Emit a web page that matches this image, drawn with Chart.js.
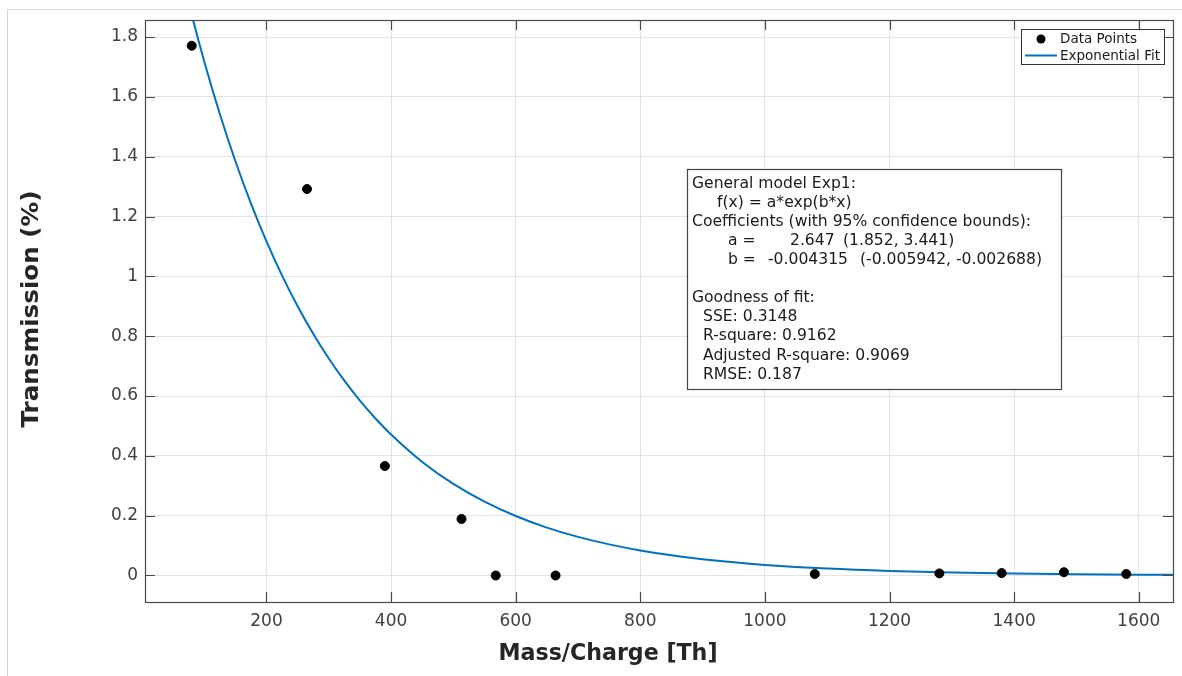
<!DOCTYPE html>
<html>
<head>
<meta charset="utf-8">
<script src="https://cdn.jsdelivr.net/npm/chart.js@4"></script>
<style>
  body { margin: 0; background: #fff; overflow: hidden; }
  #frame {
    position: absolute; left: 7px; top: 9px; width: 1300px; height: 800px;
    border-left: 1px solid #d4d4d4; border-top: 1px solid #d4d4d4;
  }
  #wrap { position: absolute; left: 0; top: 0; width: 1182px; height: 676px; }
</style>
</head>
<body>
<div id="frame"></div>
<div id="wrap"><canvas id="fitChart" width="1182" height="676"></canvas></div>
<script>
// measured points
const massCharge = [80, 265, 390, 513, 568, 664, 1080, 1280, 1380, 1480, 1580];
const transmission = [1.771, 1.292, 0.366, 0.189, 0.0, 0.0, 0.005, 0.007, 0.008, 0.011, 0.005];

// fitted curve
const fitX = [5, 25, 50, 75, 100, 125, 150, 175, 200, 225, 250, 275, 300, 325, 350, 375, 400,
  450, 500, 550, 600, 650, 700, 750, 800, 850, 900, 950, 1000, 1100, 1200, 1300, 1400, 1500, 1600, 1655];
const fitY = [2.5905, 2.3763, 2.1333, 1.9152, 1.7193, 1.5435, 1.3857, 1.244, 1.1168, 1.0026, 0.9001,
  0.808, 0.7254, 0.6512, 0.5846, 0.5248, 0.4712, 0.3797, 0.306, 0.2467, 0.1988, 0.1602, 0.1291,
  0.1041, 0.0839, 0.0676, 0.0545, 0.0439, 0.0354, 0.023, 0.0149, 0.0097, 0.0063, 0.0041, 0.0027, 0.0021];

const xTicks = [200, 400, 600, 800, 1000, 1200, 1400, 1600];
const yTicks = [0, 0.2, 0.4, 0.6, 0.8, 1, 1.2, 1.4, 1.6, 1.8];
const yTickLabels = ["0", "0.2", "0.4", "0.6", "0.8", "1", "1.2", "1.4", "1.6", "1.8"];

const seriesNames = ["Data Points", "Exponential Fit"];
const fitText = [
  ["General model Exp1:", 692],
  ["f(x) = a*exp(b*x)", 717],
  ["Coefficients (with 95% confidence bounds):", 692],
  ["a =", 728, "2.647", 790, "(1.852, 3.441)", 843],
  ["b =", 728, "-0.004315", 768, "(-0.005942, -0.002688)", 860],
  [],
  ["Goodness of fit:", 692],
  ["SSE: 0.3148", 703],
  ["R-square: 0.9162", 703],
  ["Adjusted R-square: 0.9069", 703],
  ["RMSE: 0.187", 703],
];

const FONT = "'DejaVu Sans', sans-serif";
const AXIS = "#4a4a4a";
const BLUE = "#0072BD";

// draw text squeezed/stretched horizontally by sx
function drawText(ctx, text, x, y, sx) {
  ctx.save();
  ctx.translate(x, y);
  ctx.scale(sx, 1);
  ctx.fillText(text, 0, 0);
  ctx.restore();
}

const decorPlugin = {
  id: "decor",
  afterDraw(chart) {
    const ctx = chart.ctx;
    const a = chart.chartArea;
    const xs = chart.scales.x;
    const ys = chart.scales.y;

    ctx.save();
    // box and inner ticks
    ctx.strokeStyle = AXIS;
    ctx.lineWidth = 1.2;
    ctx.beginPath();
    xTicks.forEach((v) => {
      const px = Math.round(xs.getPixelForValue(v)) + 0.5;
      ctx.moveTo(px, a.bottom); ctx.lineTo(px, a.bottom - 10);
      ctx.moveTo(px, a.top); ctx.lineTo(px, a.top + 10);
    });
    yTicks.forEach((v) => {
      const py = Math.round(ys.getPixelForValue(v)) + 0.5;
      ctx.moveTo(a.left, py); ctx.lineTo(a.left + 10, py);
      ctx.moveTo(a.right, py); ctx.lineTo(a.right - 10, py);
    });
    ctx.stroke();
    ctx.strokeRect(a.left + 0.5, a.top + 0.5, a.right - a.left, a.bottom - a.top);

    // axis titles
    ctx.fillStyle = "#262626";
    ctx.textAlign = "center";
    ctx.textBaseline = "middle";
    ctx.font = "bold 23px " + FONT;
    const xt = "Mass/Charge [Th]";
    drawText(ctx, xt, 608, 654, 219 / ctx.measureText(xt).width);
    const yt = "Transmission (%)";
    ctx.translate(32, 309);
    ctx.rotate(-Math.PI / 2);
    drawText(ctx, yt, 0, 0, 237 / ctx.measureText(yt).width);
    ctx.restore();

    // legend
    ctx.save();
    ctx.fillStyle = "#fff";
    ctx.fillRect(1021, 29, 143, 35);
    ctx.strokeStyle = "#333";
    ctx.lineWidth = 1;
    ctx.strokeRect(1021.5, 29.5, 143, 35);
    ctx.fillStyle = "#000";
    ctx.beginPath();
    ctx.arc(1041, 39, 4.5, 0, 2 * Math.PI);
    ctx.fill();
    ctx.strokeStyle = BLUE;
    ctx.lineWidth = 2;
    ctx.beginPath();
    ctx.moveTo(1025, 55.5); ctx.lineTo(1057, 55.5);
    ctx.stroke();
    ctx.fillStyle = "#1a1a1a";
    ctx.font = "14px " + FONT;
    ctx.textBaseline = "middle";
    const lsx = 100 / ctx.measureText(seriesNames[1]).width;
    drawText(ctx, seriesNames[0], 1060, 39, lsx);
    drawText(ctx, seriesNames[1], 1060, 56, lsx);

    // fit results box
    ctx.fillStyle = "#fff";
    ctx.fillRect(687, 169, 374, 220);
    ctx.strokeStyle = "#444";
    ctx.lineWidth = 1.2;
    ctx.strokeRect(687.5, 169.5, 374, 220);
    ctx.fillStyle = "#1a1a1a";
    ctx.font = "16px " + FONT;
    const bsx = 339 / ctx.measureText(fitText[2][0]).width;
    fitText.forEach((row, i) => {
      const y = 183.5 + i * 19.1;
      for (let k = 0; k < row.length; k += 2) {
        drawText(ctx, row[k], row[k + 1], y, bsx);
      }
    });
    ctx.restore();
  },
};

new Chart(document.getElementById("fitChart"), {
  type: "scatter",
  data: {
    datasets: [
      {
        label: seriesNames[1],
        data: fitX.map((x, i) => ({ x: x, y: fitY[i] })),
        showLine: true,
        borderColor: BLUE,
        borderWidth: 2,
        pointRadius: 0,
        cubicInterpolationMode: "monotone",
        order: 2,
      },
      {
        label: seriesNames[0],
        data: massCharge.map((x, i) => ({ x: x, y: transmission[i] })),
        backgroundColor: "#000",
        borderColor: "#000",
        pointRadius: 4.5,
        order: 1,
      },
    ],
  },
  options: {
    responsive: false,
    animation: false,
    layout: { padding: { left: 0, right: 9, top: 20, bottom: 0 } },
    plugins: { legend: { display: false }, tooltip: { enabled: false } },
    scales: {
      x: {
        type: "linear",
        min: 5,
        max: 1655,
        afterFit: (s) => { s.height = 74; },
        afterBuildTicks: (s) => { s.ticks = xTicks.map((v) => ({ value: v })); },
        grid: { color: "#e3e3e3", drawTicks: false },
        border: { display: false },
        ticks: {
          padding: 9,
          color: "#404040",
          font: { family: FONT, size: 17 },
          callback: (v) => String(v),
        },
      },
      y: {
        type: "linear",
        min: -0.0886,
        max: 1.857,
        afterFit: (s) => { s.width = 145; },
        afterBuildTicks: (s) => { s.ticks = yTicks.map((v) => ({ value: v })); },
        grid: { color: "#e3e3e3", drawTicks: false },
        border: { display: false },
        ticks: {
          padding: 7,
          color: "#404040",
          font: { family: FONT, size: 17 },
          callback: (v) => yTickLabels[yTicks.indexOf(v)] ?? "",
        },
      },
    },
  },
  plugins: [decorPlugin],
});
</script>
</body>
</html>
